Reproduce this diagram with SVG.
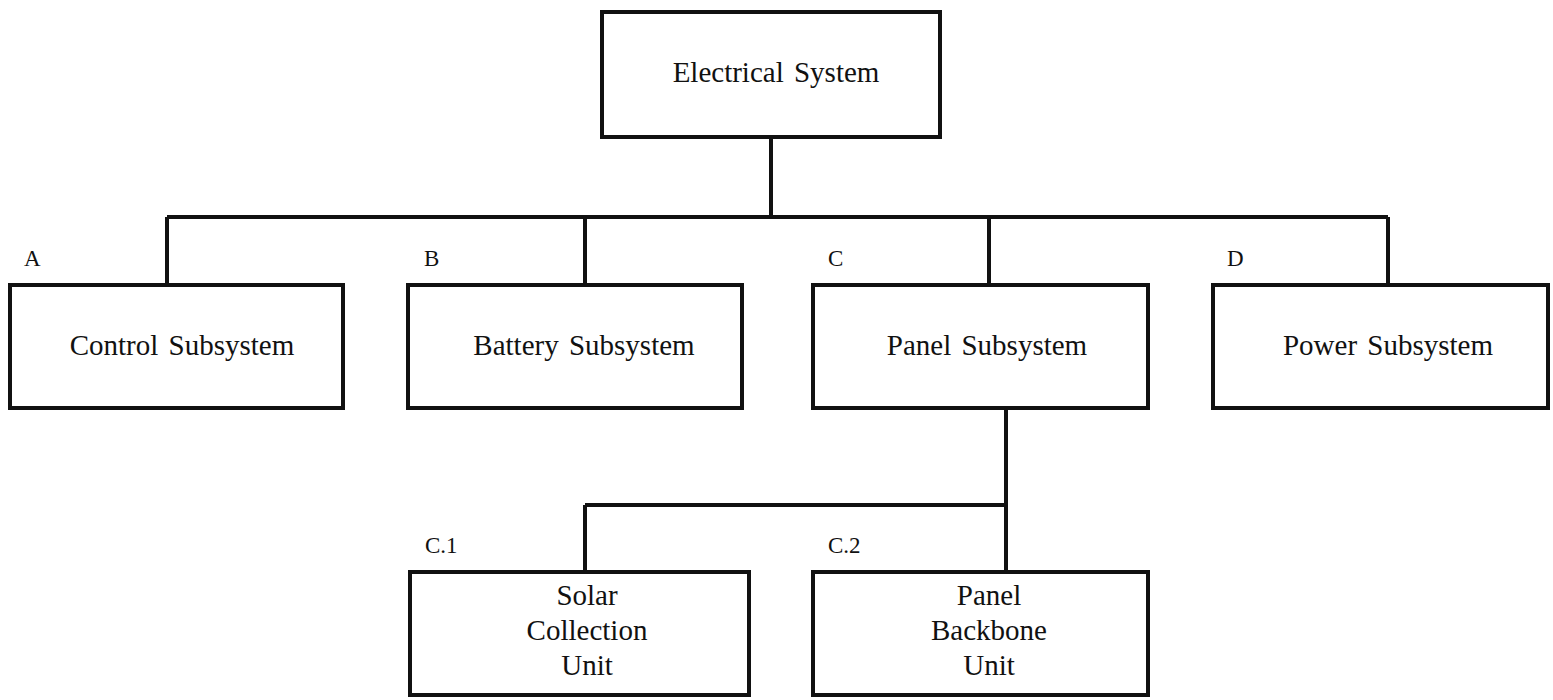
<svg xmlns="http://www.w3.org/2000/svg" width="1553" height="700" viewBox="0 0 1553 700">
<style>
.box{fill:#fff;stroke:#111;stroke-width:4}
.conn{fill:none;stroke:#111;stroke-width:4}
.t{font-family:"Liberation Serif","Times New Roman",serif;font-size:29px;fill:#111;text-anchor:middle;word-spacing:3px}
.lbl{font-family:"Liberation Serif","Times New Roman",serif;font-size:23px;fill:#111}
</style>
<rect width="1553" height="700" fill="#fff"/>
<g id="connectors">
<path class="conn" d="M771 137V217M167 217H1388M167 217V285M585 217V285M989 217V285M1388 217V285"/>
<path class="conn" d="M1006 408V572M585 505H1006M585 505V572"/>
</g>
<g id="electrical-system">
<rect class="box" x="602" y="12" width="338" height="125"/>
<text class="t" x="776" y="82">Electrical System</text>
</g>
<g id="control-subsystem">
<text class="lbl" x="24" y="266">A</text>
<rect class="box" x="10" y="285" width="333" height="123"/>
<text class="t" x="182" y="355">Control Subsystem</text>
</g>
<g id="battery-subsystem">
<text class="lbl" x="424" y="266">B</text>
<rect class="box" x="408" y="285" width="334" height="123"/>
<text class="t" x="584" y="355">Battery Subsystem</text>
</g>
<g id="panel-subsystem">
<text class="lbl" x="828" y="266">C</text>
<rect class="box" x="813" y="285" width="335" height="123"/>
<text class="t" x="987" y="355">Panel Subsystem</text>
</g>
<g id="power-subsystem">
<text class="lbl" x="1227" y="266">D</text>
<rect class="box" x="1213" y="285" width="335" height="123"/>
<text class="t" x="1388" y="355">Power Subsystem</text>
</g>
<g id="solar-collection-unit">
<text class="lbl" x="425" y="553">C.1</text>
<rect class="box" x="410" y="572" width="339" height="123"/>
<text class="t" x="587" y="605">Solar</text>
<text class="t" x="587" y="640">Collection</text>
<text class="t" x="587" y="675">Unit</text>
</g>
<g id="panel-backbone-unit">
<text class="lbl" x="828" y="553">C.2</text>
<rect class="box" x="813" y="572" width="335" height="123"/>
<text class="t" x="989" y="605">Panel</text>
<text class="t" x="989" y="640">Backbone</text>
<text class="t" x="989" y="675">Unit</text>
</g>
</svg>
